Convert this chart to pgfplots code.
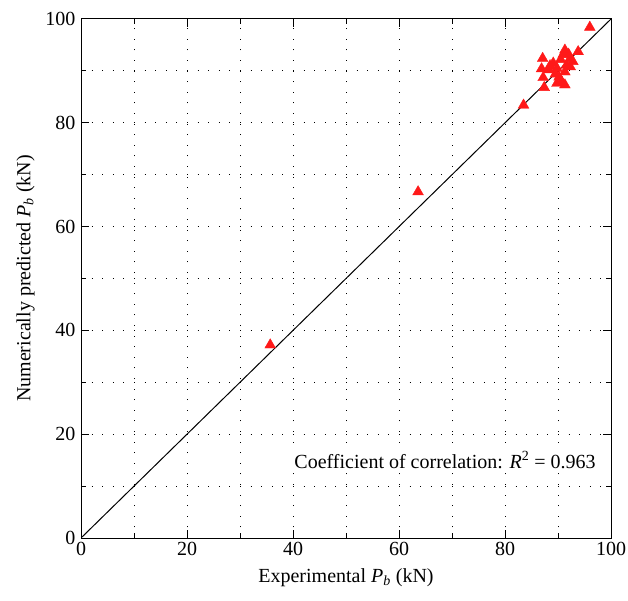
\documentclass[border=0pt]{standalone}
\usepackage{fontspec}
\setmainfont{Liberation Serif}
\usepackage{pgfplots}
\pgfplotsset{compat=1.18}

\newcommand{\Pb}{\textit{P}\textsubscript{\textit{b}}}

\begin{document}
\begin{tikzpicture}
\begin{axis}[
  name=ax,
  scale only axis,
  width=530pt, height=519pt,
  xmin=0, xmax=100, ymin=0, ymax=100,
  xtick={0,20,...,100}, ytick={0,20,...,100},
  minor tick num=1,
  grid=both,
  major grid style={black, line width=1pt, dash pattern=on 1pt off 9.6pt},
  minor grid style={black, line width=1pt, dash pattern=on 1pt off 9.6pt},
  tick align=inside,
  major tick length=8pt, minor tick length=5pt,
  tick style={black, line width=1pt},
  axis line style={line width=1pt},
  font=\fontsize{20}{24}\selectfont,
  /pgf/number format/assume math mode=true,
  yticklabel style={xshift=-2pt},
  xticklabel style={yshift=-1pt},
  xlabel={Experimental \Pb{} (kN)},
  ylabel={Numerically predicted \Pb{} (kN)},
  xlabel style={yshift=-6pt},
  ylabel style={yshift=4pt},
]
\addplot[black, line width=1pt] coordinates {(0,0) (100,100)};
\addplot[only marks, mark=triangle*, mark size=6.2pt,
  mark options={fill=red!90, draw=red!90}] table {
x y
35.7 37.2
63.6 66.7
83.5 83.4
96.0 98.4
93.8 93.7
91.3 94.0
91.0 93.2
87.1 92.4
89.1 91.5
88.5 91.0
92.3 92.4
91.6 91.1
86.9 90.4
89.8 90.5
91.3 89.8
87.2 88.7
89.5 89.4
92.3 90.8
87.4 86.8
89.8 87.6
91.3 87.3
90.7 87.9
90.5 92.2
92.8 91.8
88.3 90.2
90.2 88.8
92.0 93.2
};
\node[anchor=east, fill=white, inner sep=2pt] at (axis cs:97.5,15) {Coefficient of correlation: \textit{R}\textsuperscript{2} = 0.963};
\end{axis}
\pgfresetboundingbox
\path[use as bounding box] ([shift={(-81pt,-62pt)}]ax.south west) rectangle ([shift={(17pt,19pt)}]ax.north east);
\end{tikzpicture}
\end{document}
